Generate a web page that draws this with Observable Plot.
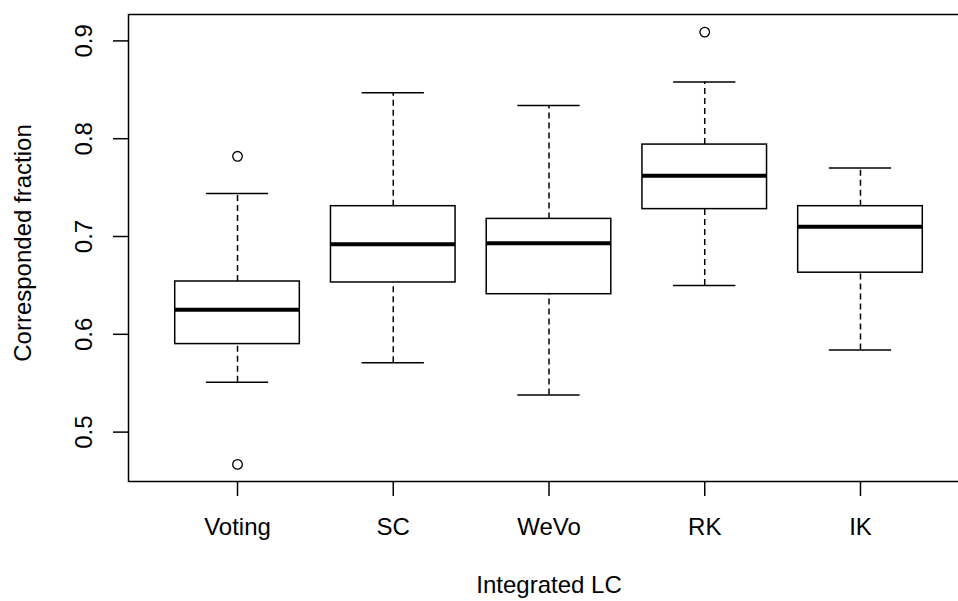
<!DOCTYPE html>
<html>
<head>
<meta charset="utf-8">
<script src="https://cdn.jsdelivr.net/npm/d3@7"></script>
<script src="https://cdn.jsdelivr.net/npm/@observablehq/plot@0.6"></script>
<style>
  html, body { margin: 0; padding: 0; background: white; }
  #chart svg { font-family: "Liberation Sans", Arial, sans-serif; }
</style>
</head>
<body>
<div id="chart"></div>
<script>
const categories = ["Voting", "SC", "WeVo", "RK", "IK"];
const lowerWhisker = [0.551, 0.571, 0.538, 0.650, 0.584];
const q1 = [0.590, 0.653, 0.641, 0.728, 0.663];
const median = [0.625, 0.692, 0.693, 0.762, 0.710];
const q3 = [0.654, 0.731, 0.718, 0.794, 0.731];
const upperWhisker = [0.744, 0.847, 0.834, 0.858, 0.770];
const outlierCategory = ["Voting", "Voting", "RK"];
const outlierValue = [0.782, 0.467, 0.909];
const yTicks = [0.5, 0.6, 0.7, 0.8, 0.9];
const xLabel = "Integrated LC";
const yLabel = "Corresponded fraction";

const rows = categories.map((c, i) => ({
  pos: i + 1, cat: c,
  lo: lowerWhisker[i], q1: q1[i], med: median[i], q3: q3[i], hi: upperWhisker[i]
}));
const outs = outlierCategory.map((c, i) => ({pos: categories.indexOf(c) + 1, value: outlierValue[i]}));

const boxHalf = 0.4, capHalf = 0.2;

const chart = Plot.plot({
  width: 958,
  height: 601,
  marginLeft: 128,
  marginRight: -11,
  marginTop: 14,
  marginBottom: 120,
  style: {fontFamily: "Liberation Sans, Arial, sans-serif", fontSize: "24px", color: "black", background: "white", overflow: "visible"},
  x: {domain: [0.3, 5.7]},
  y: {domain: [0.4495, 0.927]},
  marks: [
    // whiskers
    Plot.ruleX(rows, {x: "pos", y1: "q3", y2: "hi", stroke: "black", strokeWidth: 1.5, strokeDasharray: "6,4"}),
    Plot.ruleX(rows, {x: "pos", y1: "lo", y2: "q1", stroke: "black", strokeWidth: 1.5, strokeDasharray: "6,4"}),
    // caps
    Plot.ruleY(rows, {y: "hi", x1: d => d.pos - capHalf, x2: d => d.pos + capHalf, stroke: "black", strokeWidth: 1.5}),
    Plot.ruleY(rows, {y: "lo", x1: d => d.pos - capHalf, x2: d => d.pos + capHalf, stroke: "black", strokeWidth: 1.5}),
    // boxes
    Plot.rect(rows, {x1: d => d.pos - boxHalf, x2: d => d.pos + boxHalf, y1: "q1", y2: "q3", fill: "white", stroke: "black", strokeWidth: 1.5}),
    // medians
    Plot.ruleY(rows, {y: "med", x1: d => d.pos - boxHalf, x2: d => d.pos + boxHalf, stroke: "black", strokeWidth: 4}),
    // outliers
    Plot.dot(outs, {x: "pos", y: "value", r: 4.8, stroke: "black", strokeWidth: 1.3, fill: "none"}),
    // axes
    Plot.axisY({ticks: yTicks, tickSize: 15, tickPadding: 22, tickRotate: -90, tickFormat: d3.format(".1f"), label: null, fontSize: 24, stroke: "black", strokeWidth: 1.5}),
    Plot.axisX({ticks: [1, 2, 3, 4, 5], tickSize: 15, tickPadding: 21, tickFormat: i => categories[i - 1], label: null, fontSize: 24, stroke: "black", strokeWidth: 1.5}),
    Plot.frame({stroke: "black", strokeWidth: 1.5}),
    // axis titles
    Plot.text([xLabel], {frameAnchor: "bottom", dy: 111, fontSize: 24, fill: "black"}),
    Plot.text([yLabel], {frameAnchor: "left", textAnchor: "middle", dx: -105, dy: -5, rotate: -90, fontSize: 24, fill: "black"})
  ]
});
document.getElementById("chart").appendChild(chart);
</script>
</body>
</html>
